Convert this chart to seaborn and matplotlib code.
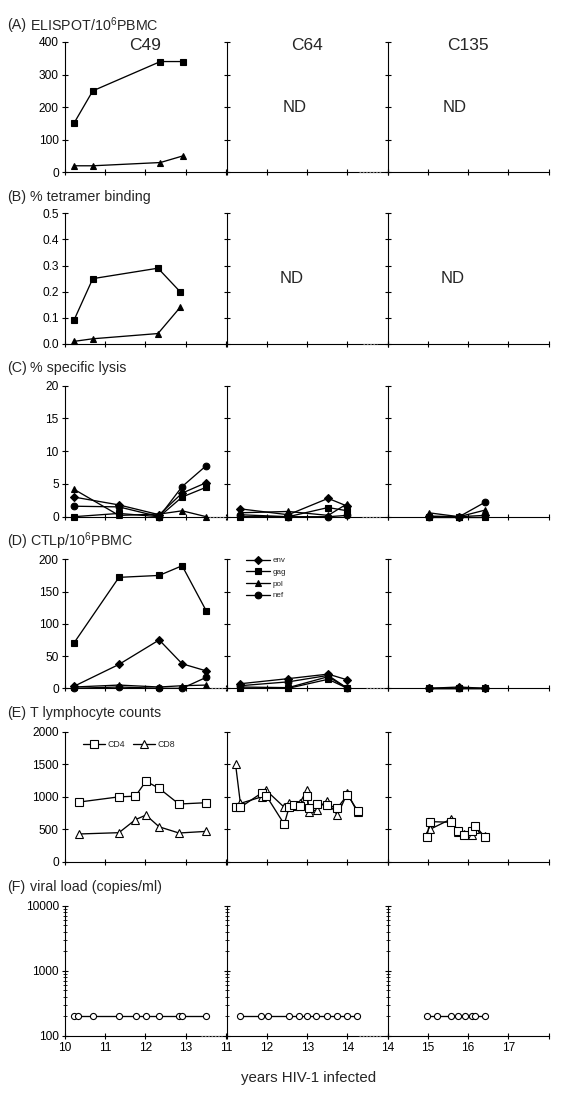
import numpy as np
import seaborn as sns
import matplotlib.pyplot as plt
from matplotlib.ticker import LogLocator, NullFormatter, FormatStrFormatter

# ---------------- data ----------------
# (A) ELISPOT / 10^6 PBMC, C49 only
elispot_t = [10.22, 10.69, 12.37, 12.92]
elispot_gag = [150, 250, 340, 340]
elispot_pol = [20, 20, 30, 50]

# (B) % tetramer binding, C49 only
tetr_t = [10.22, 10.69, 12.31, 12.86]
tetr_gag = [0.09, 0.25, 0.29, 0.20]
tetr_pol = [0.01, 0.02, 0.04, 0.14]

# sample dates for (C) and (D)
ctl_t_c49 = [10.22, 11.34, 12.34, 12.91, 13.51]
ctl_t_c64 = [11.33, 12.53, 13.52, 14.0]
ctl_t_c135 = [15.02, 15.78, 16.42]

# (C) % specific lysis
lysis_c49_env = [3.0, 1.8, 0.3, 3.6, 5.2]
lysis_c49_gag = [0.0, 0.5, 0.0, 3.0, 4.5]
lysis_c49_pol = [4.2, 0.2, 0.4, 0.9, 0.0]
lysis_c49_nef = [1.6, 1.5, 0.0, 4.6, 7.8]
lysis_c64_env = [1.2, 0.3, 2.8, 1.6]
lysis_c64_gag = [0.0, 0.0, 1.4, 0.9]
lysis_c64_pol = [0.6, 0.8, 0.2, 2.0]
lysis_c64_nef = [0.3, 0.0, 0.0, 0.2]
lysis_c135_env = [0.1, 0.0, 0.2]
lysis_c135_gag = [0.0, 0.0, 0.0]
lysis_c135_pol = [0.6, 0.0, 1.0]
lysis_c135_nef = [0.0, 0.0, 2.2]

# (D) CTLp / 10^6 PBMC
ctlp_c49_env = [3, 37, 75, 38, 27]
ctlp_c49_gag = [70, 172, 175, 190, 120]
ctlp_c49_pol = [2, 5, 2, 4, 5]
ctlp_c49_nef = [0, 2, 0, 0, 17]
ctlp_c64_env = [7, 15, 22, 13]
ctlp_c64_gag = [0, 0, 14, 0]
ctlp_c64_pol = [2, 1, 18, 0]
ctlp_c64_nef = [4, 10, 20, 0]
ctlp_c135_env = [0, 2, 0]
ctlp_c135_gag = [0, 0, 0]
ctlp_c135_pol = [0, 0, 0]
ctlp_c135_nef = [0, 0, 0]

# (E) T lymphocyte counts
tcell_t_c49 = [10.35, 11.34, 11.75, 12.01, 12.34, 12.83, 13.51]
cd4_c49 = [920, 1000, 1010, 1240, 1130, 890, 910]
cd8_c49 = [430, 450, 650, 720, 540, 445, 470]
tcell_t_c64 = [11.22, 11.34, 11.87, 11.98, 12.43, 12.55, 12.68, 12.81,
               12.99, 13.04, 13.24, 13.48, 13.75, 14.0, 14.25]
cd4_c64 = [840, 840, 1060, 1020, 580, 840, 870, 860, 1010, 830, 890, 880, 830, 1030, 790]
cd8_c64 = [1500, 900, 1000, 1100, 840, 900, 860, 900, 1100, 770, 800, 940, 720, 1060, 760]
tcell_t_c135 = [14.98, 15.05, 15.58, 15.76, 15.91, 16.10, 16.18, 16.42]
cd4_c135 = [390, 620, 610, 470, 410, 470, 560, 380]
cd8_c135 = [420, 500, 660, 460, 430, 420, 500, 400]

# (F) viral load (copies/ml), all below detection
vl_t_c49 = [10.22, 10.33, 10.69, 11.34, 11.76, 12.01, 12.34, 12.82, 12.91, 13.51]
vl_c49 = [200] * 10
vl_t_c64 = [11.32, 11.86, 12.03, 12.54, 12.79, 12.99, 13.23, 13.48, 13.75, 14.0, 14.24]
vl_c64 = [200] * 11
vl_t_c135 = [14.99, 15.23, 15.59, 15.75, 15.92, 16.10, 16.17, 16.42]
vl_c135 = [200] * 8

patients = ['C49', 'C64', 'C135']
x_start = [10, 11, 14]
panel_titles = ['ELISPOT/10$^{6}$PBMC', '% tetramer binding', '% specific lysis',
                'CTLp/10$^{6}$PBMC', 'T lymphocyte counts', 'viral load (copies/ml)']
panel_letters = ['(A)', '(B)', '(C)', '(D)', '(E)', '(F)']

# ---------------- style ----------------
sns.set_theme(style='ticks')
plt.rcParams['font.family'] = ['Liberation Sans', 'DejaVu Sans']
plt.rcParams['mathtext.fontset'] = 'custom'
plt.rcParams['mathtext.rm'] = 'Liberation Sans'
plt.rcParams['mathtext.it'] = 'Liberation Sans:italic'
plt.rcParams['mathtext.bf'] = 'Liberation Sans:bold'

W, H = 563, 1103
fig = plt.figure(figsize=(W / 100, H / 100), dpi=100)

col_left = [65, 226.7, 387.5]
col_w = 161
rows = [(42, 172.3), (213.3, 344), (385.7, 516.7), (559.3, 688.3), (731.7, 862), (905.7, 1035.7)]
ylims = [(0, 400), (0, 0.5), (0, 20), (0, 200), (0, 2000), (100, 10000)]
ysteps = [100, 0.1, 5, 50, 500, None]


def draw(ax, t, v, marker, fill='black', ms=5.0):
    sns.lineplot(x=t, y=v, ax=ax, color='black', linewidth=0.95, marker=marker,
                 markersize=ms, markerfacecolor=fill, markeredgecolor='black',
                 markeredgewidth=0.8, estimator=None, sort=False, clip_on=False,
                 zorder=3, legend=False)


def axis_break(ax, a, b):
    tr = ax.get_xaxis_transform()
    ax.plot([a, b], [0, 0], transform=tr, color='white', lw=2.2, clip_on=False, zorder=2.5)
    ax.plot([a, b], [0, 0], transform=tr, color='0.5', lw=0.8, ls=(0, (1.5, 1.5)),
            clip_on=False, zorder=2.6)


axes = []
for r, (top, bot) in enumerate(rows):
    row_axes = []
    for c, left in enumerate(col_left):
        ax = fig.add_axes([left / W, 1 - bot / H, col_w / W, (bot - top) / H])
        row_axes.append(ax)
    axes.append(row_axes)

# (A)
ax = axes[0][0]
draw(ax, elispot_t, elispot_gag, 's')
draw(ax, elispot_t, elispot_pol, '^')
# (B)
ax = axes[1][0]
draw(ax, tetr_t, tetr_gag, 's')
draw(ax, tetr_t, tetr_pol, '^')

# (C) and (D)
lysis = [(lysis_c49_env, lysis_c49_gag, lysis_c49_pol, lysis_c49_nef),
         (lysis_c64_env, lysis_c64_gag, lysis_c64_pol, lysis_c64_nef),
         (lysis_c135_env, lysis_c135_gag, lysis_c135_pol, lysis_c135_nef)]
ctlp = [(ctlp_c49_env, ctlp_c49_gag, ctlp_c49_pol, ctlp_c49_nef),
        (ctlp_c64_env, ctlp_c64_gag, ctlp_c64_pol, ctlp_c64_nef),
        (ctlp_c135_env, ctlp_c135_gag, ctlp_c135_pol, ctlp_c135_nef)]
ctl_t = [ctl_t_c49, ctl_t_c64, ctl_t_c135]
gene_markers = [('D', 3.9), ('s', 5.0), ('^', 5.0), ('o', 4.8)]
for c in range(3):
    for series, (m, ms) in zip(lysis[c], gene_markers):
        draw(axes[2][c], ctl_t[c], series, m, ms=ms)
    for series, (m, ms) in zip(ctlp[c], gene_markers):
        draw(axes[3][c], ctl_t[c], series, m, ms=ms)

leg_ax = axes[3][1]
leg = leg_ax.legend(handles=leg_ax.lines[:4], labels=['env', 'gag', 'pol', 'nef'],
                    loc='upper left', bbox_to_anchor=(0.12, 1.02), frameon=False,
                    fontsize=5.8, handlelength=3.0, handletextpad=0.3,
                    labelspacing=0.5, borderpad=0, borderaxespad=0)

# (E)
tcell = [(tcell_t_c49, cd4_c49, cd8_c49), (tcell_t_c64, cd4_c64, cd8_c64),
         (tcell_t_c135, cd4_c135, cd8_c135)]
for c, (t, cd4, cd8) in enumerate(tcell):
    draw(axes[4][c], t, cd8, '^', fill='white', ms=5.3)
    draw(axes[4][c], t, cd4, 's', fill='white', ms=5.3)
e_ax = axes[4][0]
e_ax.legend(handles=[e_ax.lines[1], e_ax.lines[0]], labels=['CD4', 'CD8'],
            loc='center left', bbox_to_anchor=(0.11, 0.9), ncol=2, frameon=False,
            fontsize=6.3, handlelength=2.5, handletextpad=0.3, columnspacing=0.9,
            borderpad=0, borderaxespad=0)

# (F)
vl = [(vl_t_c49, vl_c49), (vl_t_c64, vl_c64), (vl_t_c135, vl_c135)]
for c, (t, v) in enumerate(vl):
    draw(axes[5][c], t, v, 'o', fill='white', ms=4.4)

# axis formatting
for r in range(6):
    for c in range(3):
        ax = axes[r][c]
        ax.set_xlabel('')
        ax.set_ylabel('')
        for s in ['top', 'right']:
            ax.spines[s].set_visible(False)
        for s in ['left', 'bottom']:
            ax.spines[s].set_linewidth(0.8)
            ax.spines[s].set_color('black')
        x0 = x_start[c]
        ax.set_xlim(x0, x0 + 4)
        ax.set_xticks(range(x0, x0 + 5))
        if r == 5:
            ax.set_xticklabels([str(v) for v in range(x0, x0 + 4)] + [''])
        else:
            ax.set_xticklabels([])
        if r == 5:
            ax.set_yscale('log')
            ax.set_ylim(*ylims[r])
            ax.set_yticks([100, 1000, 10000])
            ax.set_yticklabels(['100', '1000', '10000'] if c == 0 else [])
            ax.yaxis.set_minor_locator(LogLocator(base=10, subs=np.arange(2, 10)))
            ax.yaxis.set_minor_formatter(NullFormatter())
        else:
            lo, hi = ylims[r]
            ax.set_ylim(lo, hi)
            ax.set_yticks(np.arange(lo, hi + ysteps[r] / 2, ysteps[r]))
            if r == 1:
                ax.yaxis.set_major_formatter(FormatStrFormatter('%.1f'))
            if c > 0:
                ax.set_yticklabels([])
        ax.tick_params(axis='both', which='major', direction='inout', length=5, width=0.8,
                       labelsize=8.6, colors='black', pad=2)
        ax.tick_params(axis='y', which='minor', direction='inout', length=3.5, width=0.6,
                       colors='black')
        ax.tick_params(axis='x', which='minor', bottom=False)
        ax.patch.set_alpha(0)

# broken-axis dotted segments
axis_break(axes[0][1], 14.29, 14.83)
axis_break(axes[1][1], 14.38, 14.74)
axis_break(axes[2][0], 13.58, 13.98)
axis_break(axes[2][1], 14.35, 14.85)
axis_break(axes[3][0], 13.62, 13.98)
axis_break(axes[3][1], 14.45, 14.9)
axis_break(axes[5][0], 13.37, 13.9)
axis_break(axes[5][1], 14.29, 14.83)

# patient names and ND labels
for c, name in enumerate(patients):
    axes[0][c].text(0.5, 0.975, name, transform=axes[0][c].transAxes, ha='center',
                    va='center', fontsize=12.5)
for c in (1, 2):
    axes[0][c].text(x_start[c] + 1.68, 200, 'ND', ha='center', va='center', fontsize=12)
    axes[1][c].text(x_start[c] + 1.62, 0.25, 'ND', ha='center', va='center', fontsize=12)

# panel titles
title_y = [25, 197, 368, 541, 713, 887]
for letter, title, y in zip(panel_letters, panel_titles, title_y):
    fig.text(7 / W, 1 - y / H, letter, ha='left', va='center', fontsize=10.3)
    fig.text(30 / W, 1 - y / H, title, ha='left', va='center', fontsize=10.3)

fig.text(309 / W, 1 - 1078 / H, 'years HIV-1 infected', ha='center', va='center',
         fontsize=10.8)

fig.savefig('out.png', dpi=100, facecolor='white')
